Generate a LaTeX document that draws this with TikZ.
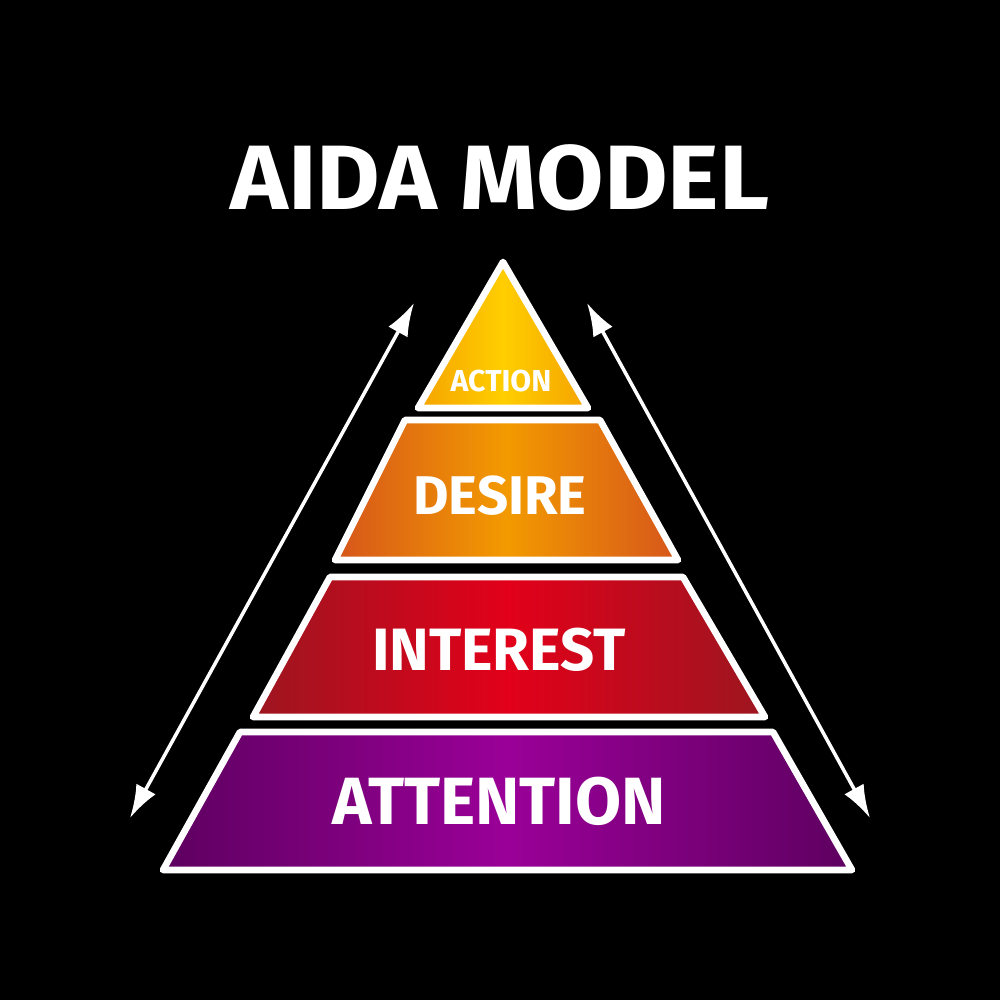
\documentclass[tikz,border=0pt]{standalone}
\usepackage{fontspec}
\setmainfont{Fira Sans}
\usetikzlibrary{arrows.meta}

\definecolor{actionEdge}{HTML}{F5A300}
\definecolor{actionMid}{HTML}{FFCE00}
\definecolor{desireEdge}{HTML}{D6561B}
\definecolor{desireMid}{HTML}{F39A00}
\definecolor{interestEdge}{HTML}{9C1620}
\definecolor{interestMid}{HTML}{E2001A}
\definecolor{attentionEdge}{HTML}{5E0060}
\definecolor{attentionMid}{HTML}{9A0098}

\tikzset{
  layer/.style 2 args={draw=white, line width=1.9pt, line join=round,
    left color=#1, right color=#1, middle color=#2},
  label/.style={text=white, font=\bfseries\fontsize{#1}{#1}\selectfont, inner sep=0pt},
  span/.style={draw=white, line width=1pt,
    {Latex[length=0.33cm,width=0.22cm]}-{Latex[length=0.33cm,width=0.22cm]}}
}

\begin{document}
\begin{tikzpicture}[x=0.01cm, y=-0.01cm]
  \fill[black] (0,0) rectangle (1000,1000);

  % title
  \node[label=26pt, xscale=1.07] (title) at (500,178) {AIDA MODEL};

  % pyramid layers, top to bottom
  \path[layer={actionEdge}{actionMid}] (503,262) -- (588,408) -- (418,408) -- cycle;
  \path[layer={desireEdge}{desireMid}] (405,420) -- (600,420) -- (678,560) -- (335,560) -- cycle;
  \path[layer={interestEdge}{interestMid}] (330,577) -- (683,577) -- (765,717) -- (253,717) -- cycle;
  \path[layer={attentionEdge}{attentionMid}] (240,732) -- (773,732) -- (852,870) -- (163,870) -- cycle;

  \node[label=8.6pt]  (action)    at (501,381) {ACTION};
  \node[label=15.5pt] (desire)    at (500,496) {DESIRE};
  \node[label=17pt]   (interest)  at (499,650) {INTEREST};
  \node[label=19pt]   (attention) at (499,801) {ATTENTION};

  % side arrows
  \coordinate (lTop) at (414,303);
  \coordinate (lBot) at (130,818);
  \coordinate (rTop) at (587,303);
  \coordinate (rBot) at (870,818);
  \draw[span] (lTop) -- (lBot);
  \draw[span] (rTop) -- (rBot);
\end{tikzpicture}
\end{document}
